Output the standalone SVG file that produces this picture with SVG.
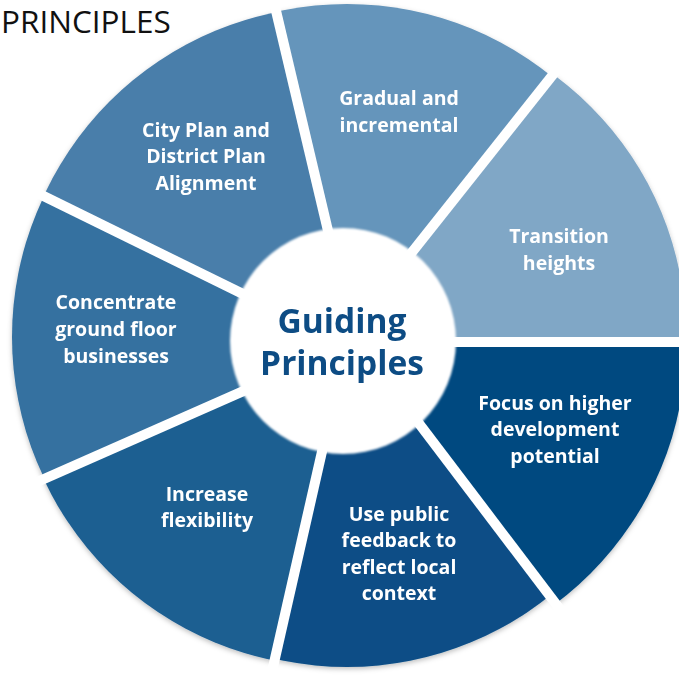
<svg xmlns="http://www.w3.org/2000/svg" width="683" height="676" viewBox="0 0 683 676">
  <style>
    .lbl { font-family: "Open Sans", "Noto Sans", "Liberation Sans", sans-serif; font-weight: 700; font-size: 19.5px; fill: #ffffff; text-anchor: middle; }
    .ctr { font-family: "Open Sans", "Noto Sans", "Liberation Sans", sans-serif; font-weight: 700; font-size: 33.5px; fill: #0d4c84; text-anchor: middle; }
    .title { font-family: "Open Sans", "Noto Sans", "Liberation Sans", sans-serif; font-weight: 400; font-size: 31.5px; fill: #111111; }
    .sep { stroke: #ffffff; stroke-width: 10; stroke-linecap: butt; }
  </style>
  <defs>
    <clipPath id="cGrad"><circle cx="347" cy="330" r="326"/></clipPath>
    <clipPath id="cTran"><circle cx="362" cy="336" r="324"/></clipPath>
    <clipPath id="cFocus"><circle cx="360" cy="343" r="326"/></clipPath>
    <clipPath id="cUse"><circle cx="347" cy="343" r="324"/></clipPath>
    <clipPath id="cInc"><circle cx="339" cy="341" r="326"/></clipPath>
    <clipPath id="cConc"><circle cx="338" cy="337" r="326"/></clipPath>
    <clipPath id="cCity"><circle cx="340" cy="332" r="326"/></clipPath>
    <clipPath id="cRect"><rect x="0" y="0" width="679" height="676"/></clipPath>
    <filter id="shadow" x="-5%" y="-5%" width="110%" height="110%">
      <feDropShadow dx="0" dy="2" stdDeviation="2.5" flood-color="#000000" flood-opacity="0.25"/>
    </filter>
    <filter id="soft" x="-10%" y="-10%" width="120%" height="120%">
      <feGaussianBlur stdDeviation="1.2"/>
    </filter>
  </defs>

  <rect x="0" y="0" width="683" height="676" fill="#ffffff"/>

  <text class="title" x="1" y="33">PRINCIPLES</text>

  <g clip-path="url(#cRect)">
    <g filter="url(#shadow)">
      <g id="seg-gradual" clip-path="url(#cGrad)">
        <polygon points="345,338 342,290 264,-40 644,-40 382,290" fill="#6595bb"/>
      </g>
      <g id="seg-transition" clip-path="url(#cTran)">
        <polygon points="345,338 382,290 644,-40 720,-40 720,342 390,342" fill="#80a7c6"/>
      </g>
      <g id="seg-focus" clip-path="url(#cFocus)">
        <polygon points="345,338 390,342 720,342 720,720 644,720 386,380" fill="#064a80"/>
      </g>
      <g id="seg-public" clip-path="url(#cUse)">
        <polygon points="345,338 386,380 644,720 261,720 336,390" fill="#0a4e86"/>
      </g>
      <g id="seg-flexibility" clip-path="url(#cInc)">
        <polygon points="345,338 336,390 261,720 -40,720 -40,516 300,366" fill="#1f5e91"/>
      </g>
      <g id="seg-concentrate" clip-path="url(#cConc)">
        <polygon points="345,338 300,366 -40,516 -40,155 300,322" fill="#3571a0"/>
      </g>
      <g id="seg-cityplan" clip-path="url(#cCity)">
        <polygon points="345,338 300,322 -40,155 -40,-40 264,-40 342,290" fill="#4a7eaa"/>
      </g>
    </g>
  </g>

  <g id="separators">
    <line class="sep" x1="342" y1="290" x2="264" y2="-40"/>
    <line class="sep" x1="382" y1="290" x2="644" y2="-40"/>
    <line class="sep" x1="390" y1="342" x2="720" y2="342"/>
    <line class="sep" x1="386" y1="380" x2="644" y2="720"/>
    <line class="sep" x1="336" y1="390" x2="261" y2="720"/>
    <line class="sep" x1="300" y1="366" x2="-40" y2="516"/>
    <line class="sep" x1="300" y1="322" x2="-40" y2="155"/>
  </g>

  <g id="center">
    <circle cx="343" cy="341" r="113" fill="#ffffff" filter="url(#soft)"/>
    <text class="ctr" x="342" y="333">Guiding</text>
    <text class="ctr" x="342" y="375">Principles</text>
  </g>

  <g id="labels">
    <g id="lbl-cityplan">
      <text class="lbl" x="206" y="137">City Plan and</text>
      <text class="lbl" x="206" y="163">District Plan</text>
      <text class="lbl" x="206" y="190">Alignment</text>
    </g>
    <g id="lbl-gradual">
      <text class="lbl" x="399" y="105">Gradual and</text>
      <text class="lbl" x="399" y="132">incremental</text>
    </g>
    <g id="lbl-transition">
      <text class="lbl" x="559" y="243">Transition</text>
      <text class="lbl" x="559" y="270">heights</text>
    </g>
    <g id="lbl-concentrate">
      <text class="lbl" x="116" y="309">Concentrate</text>
      <text class="lbl" x="116" y="336">ground floor</text>
      <text class="lbl" x="116" y="363">businesses</text>
    </g>
    <g id="lbl-flexibility">
      <text class="lbl" x="207" y="501">Increase</text>
      <text class="lbl" x="207" y="527">flexibility</text>
    </g>
    <g id="lbl-focus">
      <text class="lbl" x="555" y="410">Focus on higher</text>
      <text class="lbl" x="555" y="436">development</text>
      <text class="lbl" x="555" y="463">potential</text>
    </g>
    <g id="lbl-public">
      <text class="lbl" x="399" y="521">Use public</text>
      <text class="lbl" x="399" y="547">feedback to</text>
      <text class="lbl" x="399" y="574">reflect local</text>
      <text class="lbl" x="399" y="600">context</text>
    </g>
  </g>
</svg>
